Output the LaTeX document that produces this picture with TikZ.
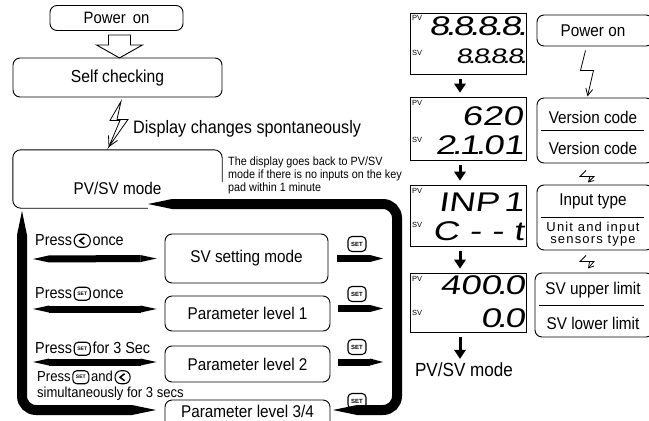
\documentclass[tikz,border=0pt]{standalone}
\usepackage{fontspec}
\setmainfont{Liberation Sans}[FakeStretch=0.9]
\newfontfamily\widefont{Liberation Sans}
\newfontfamily\spacedfont{Liberation Sans}[LetterSpace=9]
\newfontfamily\segfont{Liberation Sans}[FakeSlant=0.15,FakeStretch=1.35]
\usetikzlibrary{positioning,arrows.meta,calc}

\newcommand{\sdot}{\kern-4pt.\kern-2.5pt}

\tikzset{
  box/.style={draw, rounded corners=7pt, line width=0.9pt, inner sep=0pt},
  disp/.style={draw, line width=0.8pt, inner sep=0pt, minimum width=116pt},
  seg/.style={font=\segfont\fontsize{27}{27}\selectfont, inner sep=0pt, anchor=base east},
  segsm/.style={seg, font=\segfont\fontsize{21}{21}\selectfont},
  lbl/.style={font=\widefont\fontsize{7.5}{8}\selectfont, inner sep=0pt, anchor=north west},
  press/.style={font=\fontsize{16}{18}\selectfont, inner sep=0pt, text height=11.5pt, text depth=3pt},
  small/.style={font=\fontsize{14.5}{16}\selectfont, inner sep=0pt, text height=10.5pt, text depth=3pt},
  rtxt/.style={font=\fontsize{17}{19}\selectfont, inner sep=0pt},
  setkey/.style={draw, rounded corners=4pt, line width=1.1pt, inner sep=0pt, minimum width=18pt, minimum height=15pt, font=\widefont\bfseries\fontsize{6}{6}\selectfont},
  setkeysm/.style={setkey, minimum width=16pt, minimum height=13pt, font=\widefont\bfseries\fontsize{5}{5}\selectfont},
  leftkey/.style={draw, rounded corners=6pt, line width=1.1pt, inner sep=0pt, minimum width=16pt, minimum height=13pt},
  lens/.style={line width=7pt, arrows={Triangle[length=16pt,width=7pt,line width=0pt]-Triangle[length=16pt,width=7pt,line width=0pt]}},
  stub/.style={line width=7pt, arrows={-Triangle[length=13pt,width=7pt,line width=0pt]}},
  band/.style={line width=10pt, rounded corners=14pt, arrows={Triangle[length=24pt,width=10pt,line width=0pt]-Triangle[length=24pt,width=10pt,line width=0pt]}},
  darr/.style={line width=3pt, arrows={-Triangle[length=9pt,width=12pt,line width=0pt]}, shorten <=5pt, shorten >=4pt},
  bolt/.style={line width=0.8pt, arrows={-Straight Barb[length=7pt,width=7pt]}}
}

\begin{document}
\begin{tikzpicture}[x=1pt, y=-1pt]
  \useasboundingbox (0,0) rectangle (649,421);
  \clip (0,0) rectangle (649,421);

  % start up
  \node[box, minimum width=133pt, minimum height=25pt, font=\fontsize{16.5}{18}\selectfont] (pon) at (116.5,18) {Power\hspace{3pt} on};
  \node[box, minimum width=209pt, minimum height=39pt, font=\fontsize{17.4}{19}\selectfont] (self) at (117.5,77.5) {Self checking};
  \draw[line width=0.9pt, shift={([xshift=3pt]pon.south)}] (-11,4) -- (11,4) -- (11,14) -- (23,14) -- (0,27) -- (-23,14) -- (-11,14) -- cycle;
  \draw[line width=0.8pt, shift={(self.south)}] (3.5,4) -- (-7.5,23) -- (2.5,23) -- (-8.5,49) -- (10.5,22) -- (-0.5,22) -- cycle;
  \draw[line width=0.8pt, shift={(self.south)}] (-9,38) -- (-8.5,49) -- (0,43);
  \node[anchor=west, inner sep=0pt, font=\fontsize{18}{20}\selectfont] (spont) at (133,129) {Display changes spontaneously};

  % PV/SV mode
  \node[minimum width=209pt, minimum height=58pt, inner sep=0pt] (mode) at (117.5,179) {};
  \node[font=\fontsize{17}{19}\selectfont, inner sep=0pt] (modetxt) at ([yshift=-9pt]mode.center) {PV/SV mode};
  \draw[line width=0.9pt, rounded corners=8pt] ([xshift=135pt]mode.south west) -- (mode.south west) -- (mode.north west) -- (mode.north east) -- ([yshift=-32pt]mode.north east);
  \node[anchor=north west, align=left, inner sep=0pt, font=\fontsize{12}{12.6}\selectfont] (note) at (228,157) {The display goes back to PV/SV\\mode if there is no inputs on the key\\pad within 1 minute};

  % the loop
  \draw[band] (333,410) -- (397,410) -- (397,204) -- (148,204);
  \draw[band] (156,410) -- (22,410) -- (22,211);

  \node[box, minimum width=163pt, minimum height=49pt, font=\fontsize{17}{19}\selectfont] (svset) at (246.5,258.5) {SV setting mode};
  \node[box, minimum width=165pt, minimum height=35pt, font=\fontsize{17}{19}\selectfont] (lev1) at (247.5,313.5) {Parameter level 1};
  \node[box, minimum width=165pt, minimum height=36pt, font=\fontsize{17}{19}\selectfont] (lev2) at (247.5,364) {Parameter level 2};
  \node[box, minimum width=165pt, minimum height=40pt] (lev34) at (247.5,420) {};
  \node[font=\fontsize{17}{19}\selectfont, inner sep=0pt] (lev34txt) at (247.5,411.5) {Parameter level 3/4};

  \draw[lens] (33,259) -- ([xshift=-8pt]svset.west);
  \draw[lens] (33,309) -- ([xshift=-8pt,yshift=4.5pt]lev1.west);
  \draw[lens] (33,362) -- ([xshift=-8pt,yshift=2pt]lev2.west);
  \draw[stub] ([xshift=9pt]svset.east) -- (383,258.5);
  \draw[stub] ([xshift=8pt,yshift=5pt]lev1.east) -- (383,308.5);
  \draw[stub] ([xshift=8pt,yshift=2pt]lev2.east) -- (383,362);

  \node[setkey] (k1) at (357,244) {SET};
  \node[setkey] (k2) at (357,294) {SET};
  \node[setkey] (k3) at (357,347) {SET};
  \node[setkey] (k4) at (357,401) {SET};

  % key presses
  \node[press, anchor=base west] (pr1) at (35,245) {Press};
  \node[leftkey, right=1.5pt of pr1] (lk1) {};
  \draw[line width=1.6pt] ([xshift=2pt,yshift=3.5pt]lk1.center) -- ([xshift=-2.5pt]lk1.center) -- ([xshift=2pt,yshift=-3.5pt]lk1.center);
  \node[press, right=1.5pt of lk1] (on1) {once};

  \node[press, anchor=base west] (pr2) at (35,298) {Press};
  \node[setkeysm, right=1.5pt of pr2] (sk2) {SET};
  \node[press, right=1.5pt of sk2] (on2) {once};

  \node[press, anchor=base west] (pr3) at (35,353) {Press};
  \node[setkeysm, right=1.5pt of pr3] (sk3) {SET};
  \node[press, right=1.5pt of sk3] (sec3) {for 3 Sec};

  \node[small, anchor=base west] (pr4) at (37,381) {Press};
  \node[setkeysm, right=1.5pt of pr4] (sk4) {SET};
  \node[small, right=1.5pt of sk4] (and4) {and};
  \node[leftkey, minimum width=15pt, right=1.5pt of and4] (lk4) {};
  \draw[line width=1.5pt] ([xshift=2pt,yshift=3.5pt]lk4.center) -- ([xshift=-2.5pt]lk4.center) -- ([xshift=2pt,yshift=-3.5pt]lk4.center);
  \node[small, anchor=base west] (simul) at (37,397) {simultaneously for 3 secs};

  % displays
  \node[disp, minimum height=61pt] (d1) at (468,43.5) {};
  \node[disp, minimum height=63pt] (d2) at (468,128.5) {};
  \node[disp, minimum height=61pt] (d3) at (468,215.5) {};
  \node[disp, minimum height=59pt] (d4) at (468,302.5) {};
  \node[font=\fontsize{19}{21}\selectfont, inner sep=0pt] (pvsv) at (464,370) {PV/SV mode};

  \draw[darr] ([xshift=-8pt]d1.south) -- ([xshift=-8pt]d2.north);
  \draw[darr] ([xshift=-8pt]d2.south) -- ([xshift=-8pt]d3.north);
  \draw[darr] ([xshift=-8pt]d3.south) -- ([xshift=-8pt]d4.north);
  \draw[darr] ([xshift=-8pt]d4.south) -- ([xshift=-4pt]pvsv.north);

  \node[lbl] at (412,15) {PV};
  \node[lbl] at (412,50) {SV};
  \node[lbl] at (412,100) {PV};
  \node[lbl] at (412,137) {SV};
  \node[lbl] at (412,188) {PV};
  \node[lbl] at (412,222) {SV};
  \node[lbl] at (412,276) {PV};
  \node[lbl] at (412,310) {SV};

  \node[seg] at (525,35) {8\sdot8\sdot8\sdot8\sdot};
  \node[segsm] at (525,63) {8\sdot8\sdot8\sdot8\sdot};
  \node[seg] at (523,125) {620};
  \node[seg] at (524,154) {2\sdot1\sdot01};
  \node[seg] at (524,211) {INP\,1};
  \node[seg] at (524,240) {C - - t};
  \node[seg] at (525,294) {400\sdot0};
  \node[seg] at (525,327) {0\sdot0};

  % what the display shows
  \node[box, minimum width=116pt, minimum height=31pt] (pon2) at (595,30.5) {};
  \node[rtxt] at (593,31) {Power on};
  \node[box, minimum width=116pt, minimum height=65pt] (ver) at (595,130.5) {};
  \draw[line width=0.9pt] ([xshift=4pt]ver.west) -- ([xshift=-9pt]ver.east);
  \node[rtxt] at (593,117) {Version code};
  \node[rtxt] at (593,148) {Version code};
  \node[box, minimum width=116pt, minimum height=65pt] (inp) at (595,217.5) {};
  \draw[line width=0.9pt] ([xshift=4pt]inp.west) -- ([xshift=-9pt]inp.east);
  \node[rtxt] at (593,201) {Input type};
  \node[inner sep=0pt, font=\spacedfont\fontsize{13}{14}\selectfont] at (593,228) {Unit and input};
  \node[inner sep=0pt, font=\spacedfont\fontsize{13}{14}\selectfont] at (593,241) {sensors type};
  \node[box, minimum width=118pt, minimum height=64pt] (svl) at (594,305) {};
  \draw[line width=0.9pt] ([xshift=4pt]svl.west) -- ([xshift=-9pt]svl.east);
  \node[rtxt] at (593,290) {SV upper limit};
  \node[rtxt] at (593,323) {SV lower limit};

  \draw[bolt, shift={(pon2.south)}] (-9.5,4) -- (-14.5,24) -- (-1.5,24) -- (-7.5,50);
  \draw[bolt, arrows={-Straight Barb[length=5pt,width=6pt]}, shift={(ver.south)}] (-9,7) -- (-15,13) -- (-1,13) -- (-7,19);
  \draw[bolt, arrows={-Straight Barb[length=5pt,width=6pt]}, shift={(inp.south)}] (-9,5) -- (-15,11) -- (-1,11) -- (-7,18);
\end{tikzpicture}
\end{document}
